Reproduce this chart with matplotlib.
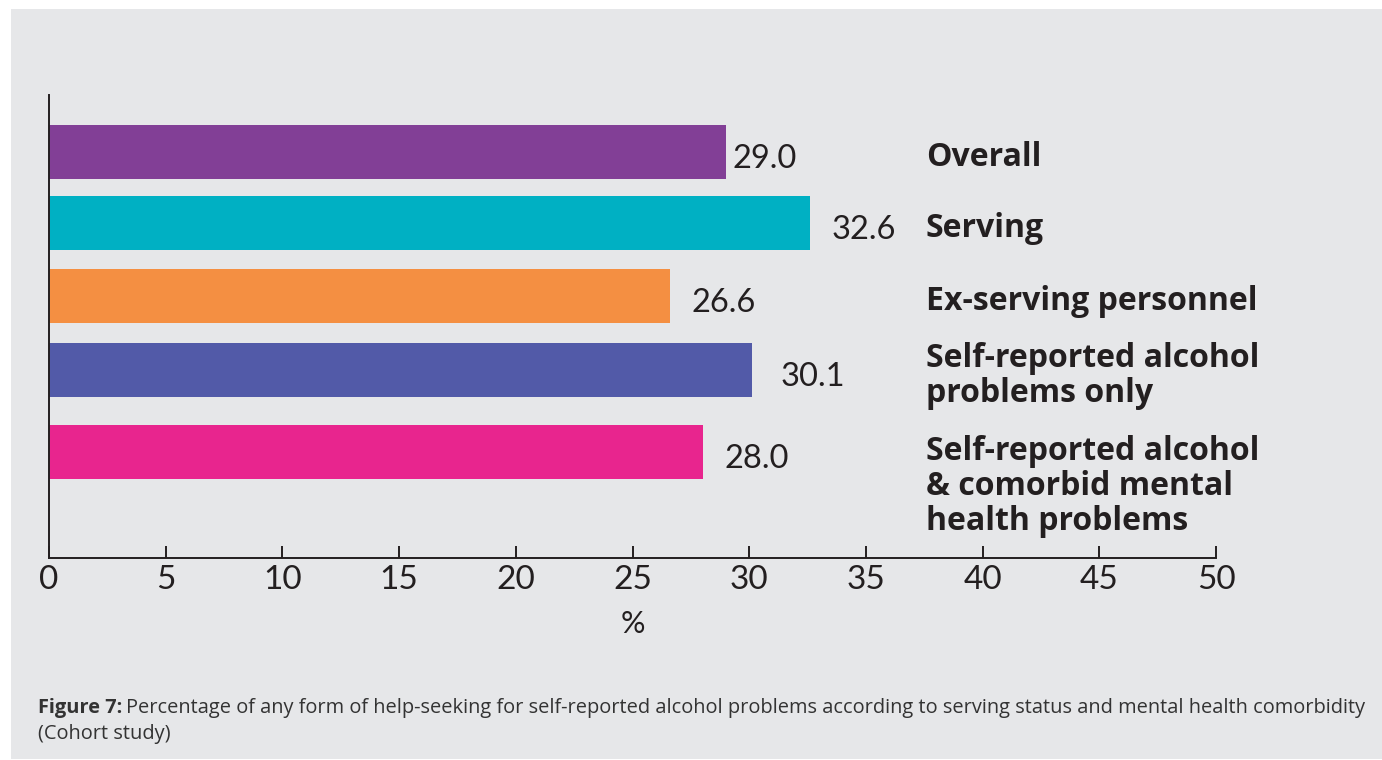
import matplotlib
matplotlib.use("Agg")
import matplotlib.pyplot as plt
from matplotlib.patches import Rectangle

# help-seeking for self-reported alcohol problems, cohort study
groups = [
    "Overall",
    "Serving",
    "Ex-serving personnel",
    "Self-reported alcohol\nproblems only",
    "Self-reported alcohol\n& comorbid mental\nhealth problems",
]
percent = [29.0, 32.6, 26.6, 30.1, 28.0]
bar_colors = ["#823f96", "#00b0c3", "#f48f42", "#525aa8", "#e8258e"]
ticks = [0, 5, 10, 15, 20, 25, 30, 35, 40, 45, 50]

# layout
slot_y = [0, 0.96, 1.95, 2.95, 4.06]
label_pad = [7, 22, 22, 29, 22]   # px gap between bar end and value
INK = "#231f20"
PANEL = "#e6e7e9"
NUM_FONT = "Lato"
TXT_FONT = "Open Sans"


def main():
    fig = plt.figure(figsize=(13.82, 7.60), dpi=100, facecolor="white")
    fig.patches.append(Rectangle((11 / 1382, 1 / 760), 1, 1 - 10 / 760,
                                 transform=fig.transFigure, facecolor=PANEL,
                                 edgecolor="none", zorder=-1))

    ax = fig.add_axes([49 / 1382, 1 - 558 / 760, (1216 - 49) / 1382, (558 - 95) / 760])
    ax.set_facecolor("none")

    ax.barh(slot_y, percent, height=0.73, color=bar_colors, zorder=2)

    ax.set_xlim(0, 50)
    ax.set_ylim(5.49, -0.77)
    ax.set_xticks(ticks)
    ax.set_xticklabels([str(t) for t in ticks], fontsize=24, family=NUM_FONT, color=INK)
    ax.set_yticks([])
    ax.tick_params(axis="x", direction="in", length=9, width=1.4, color=INK, pad=5)
    ax.set_xlabel("%", fontsize=22, family=NUM_FONT, color=INK, labelpad=11)

    for side in ("top", "right"):
        ax.spines[side].set_visible(False)
    for side in ("left", "bottom"):
        ax.spines[side].set_color(INK)
        ax.spines[side].set_linewidth(1.4)

    # value labels
    for y, v, pad in zip(slot_y, percent, label_pad):
        ax.annotate(f"{v:.1f}", (v, y), xytext=(pad * 0.72, -5), textcoords="offset points",
                    ha="left", va="center", fontsize=23.5, family=NUM_FONT, color=INK)

    # category names to the right of the bars
    for i, (y, name) in enumerate(zip(slot_y, groups)):
        if i == len(groups) - 1:
            ax.annotate(name, (37.57, y), xytext=(0, 12.5), textcoords="offset points",
                        ha="left", va="top", fontsize=23, family=TXT_FONT,
                        fontweight="bold", color=INK, linespacing=1.08)
        else:
            ax.annotate(name, (37.57, y), xytext=(0, -4), textcoords="offset points",
                        ha="left", va="center", fontsize=23, family=TXT_FONT,
                        fontweight="bold", color=INK, linespacing=1.08)

    # caption with bold figure number
    fig.canvas.draw()
    r = fig.canvas.get_renderer()
    head = fig.text(38 / 1382, 1 - 713 / 760, "Figure 7:", fontsize=14.4, family=TXT_FONT,
                    fontweight="bold", color="#333333", va="baseline")
    bb = head.get_window_extent(renderer=r)
    fig.text((bb.x1 + 4) / 1382, 1 - 713 / 760,
             "Percentage of any form of help-seeking for self-reported alcohol problems "
             "according to serving status and mental health comorbidity",
             fontsize=14.4, family=TXT_FONT, color="#333333", va="baseline")
    fig.text(38 / 1382, 1 - 739 / 760, "(Cohort study)", fontsize=14.4, family=TXT_FONT,
             color="#333333", va="baseline")

    fig.savefig("out.png", dpi=100, facecolor="white")


if __name__ == "__main__":
    main()
